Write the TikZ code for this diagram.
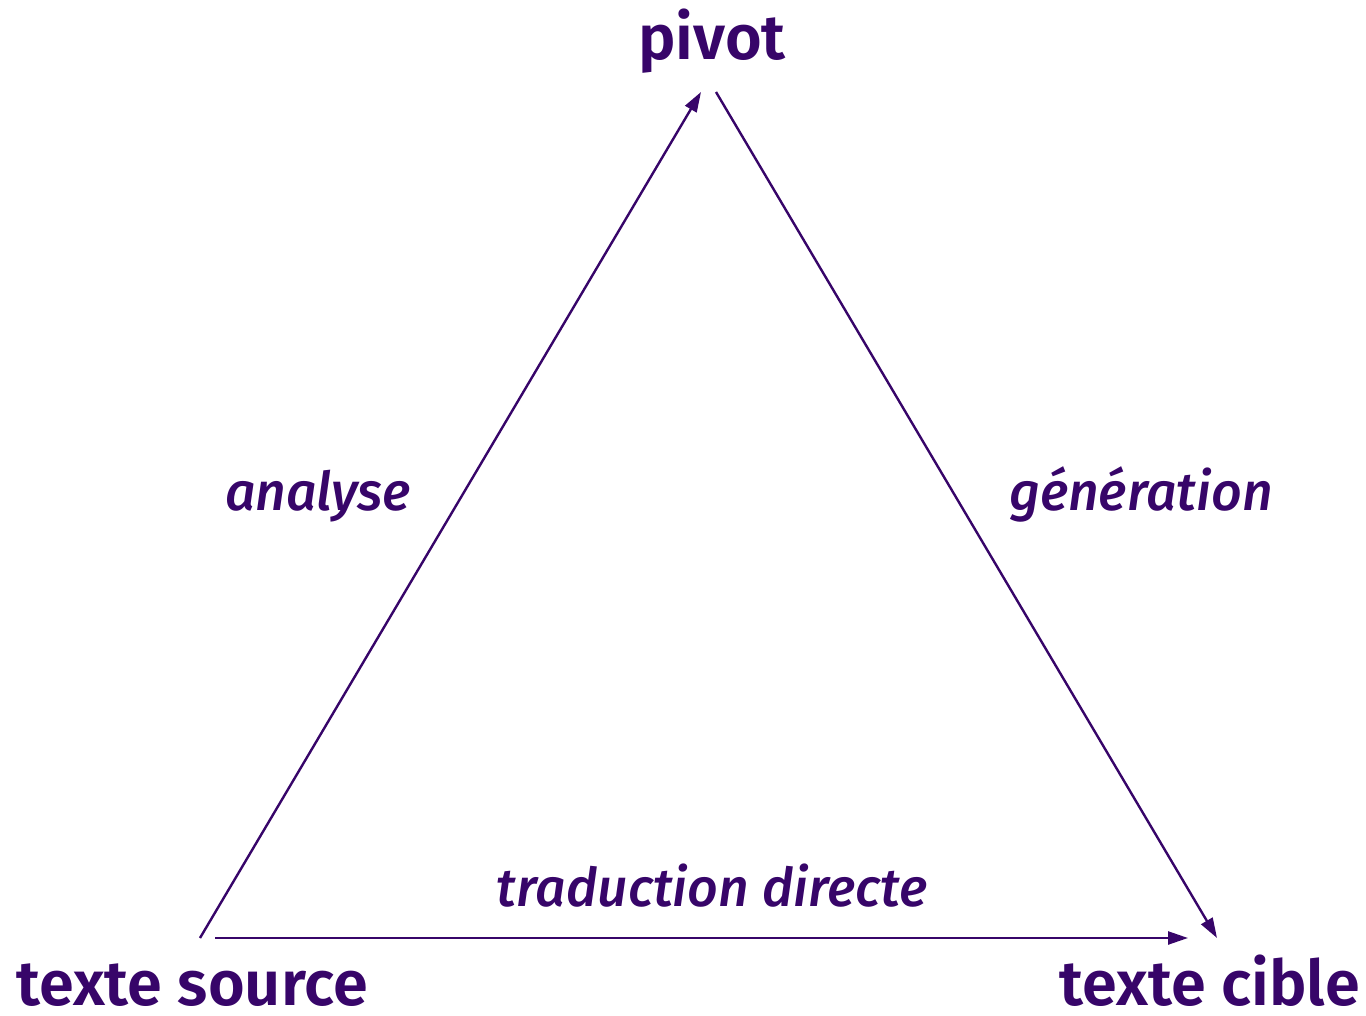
\documentclass[tikz,border=0pt]{standalone}
\usepackage{fontspec}
\setmainfont{Fira Sans}
\newfontfamily\titlefont{Fira Sans SemiBold}
\newfontfamily\labfont{Fira Sans Medium Italic}
\usetikzlibrary{arrows.meta}
\definecolor{ink}{RGB}{55,5,105}
\begin{document}
\begin{tikzpicture}[x=1pt,y=-1pt,
  term/.style={text=ink,anchor=base,inner sep=0pt,font=\titlefont\fontsize{63}{66}\selectfont},
  lab/.style={text=ink,anchor=base,inner sep=0pt,font=\labfont\fontsize{53.5}{56}\selectfont},
  conn/.style={draw=ink,line width=2.4pt,-{Triangle[length=20pt,width=13pt]}}]
\useasboundingbox (0,0) rectangle (1366,1016);
\node[term] (pivot) at (712,60) {pivot};
\node[term] (src) at (192,1005) {texte source};
\node[term] (tgt) at (1210,1005) {texte cible};
\coordinate (a1) at (200,938);
\coordinate (a2) at (701,92);
\coordinate (g1) at (716,92);
\coordinate (g2) at (1217,938);
\coordinate (d1) at (215,938);
\coordinate (d2) at (1188,938);
\draw[conn] (a1) -- (a2);
\draw[conn] (g1) -- (g2);
\draw[conn] (d1) -- (d2);
\node[lab] (la) at (318,510) {analyse};
\node[lab] (lg) at (1141,510) {génération};
\node[lab] (ld) at (712,906) {traduction directe};
\end{tikzpicture}
\end{document}
